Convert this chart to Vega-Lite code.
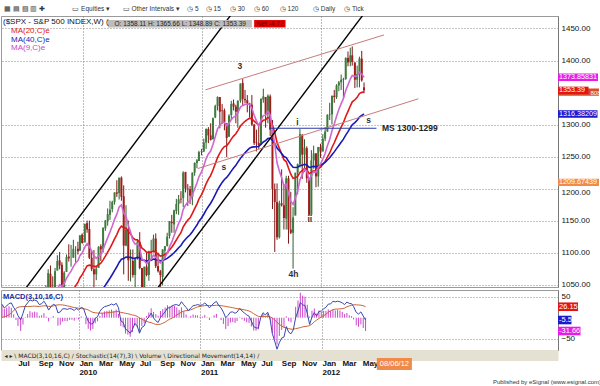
{
  "$schema": "https://vega.github.io/schema/vega-lite/v6.json",
  "padding": {"left": 0, "top": 5, "right": 0, "bottom": 1},
  "background": "white",
  "spacing": -3,
  "config": {
    "view": {"stroke": "#9a9a9a"},
    "font": "Liberation Sans",
    "title": {"font": "Liberation Sans"},
    "axis": {"labelFont": "Liberation Sans", "titleFont": "DejaVu Sans", "labelOverlap": false}
  },
  "title": {"text": "Published by eSignal (www.esignal.com)", "orient": "bottom", "anchor": "end", "frame": "bounds", "fontSize": 6, "fontWeight": "normal", "color": "#333", "offset": 2},
  "resolve": {"scale": {"color": "independent", "fill": "independent", "shape": "independent", "x": "independent", "y": "independent"}, "legend": {"color": "independent"}},
  "datasets": {
    "weeks": [
      {"d":"2009-05-15","o":929,"h":930,"l":878,"c":882,"m20":858,"m40":835,"m9":880,"md":32,"sg":1.1,"hs":30.9},
      {"d":"2009-05-22","o":886,"h":924,"l":879,"c":887,"m20":861,"m40":838,"m9":881,"md":23.3,"sg":2.2,"hs":21.1},
      {"d":"2009-05-29","o":888,"h":920,"l":881,"c":919,"m20":870,"m40":842,"m9":889,"md":27.9,"sg":4,"hs":24},
      {"d":"2009-06-05","o":919,"h":951,"l":916,"c":940,"m20":876.7,"m40":847,"m9":899,"md":33.8,"sg":6.7,"hs":27.1},
      {"d":"2009-06-12","o":940,"h":956,"l":936,"c":946,"m20":883.3,"m40":852,"m9":908,"md":35.1,"sg":11.4,"hs":23.7},
      {"d":"2009-06-19","o":945,"h":945,"l":903,"c":921,"m20":886.9,"m40":855,"m9":911,"md":24.5,"sg":16.4,"hs":8.2},
      {"d":"2009-06-26","o":921,"h":928,"l":888,"c":918,"m20":889.8,"m40":858,"m9":912,"md":16.9,"sg":22.1,"hs":-5.2},
      {"d":"2009-07-02","o":918,"h":931,"l":896,"c":896,"m20":890.4,"m40":860,"m9":909,"md":5.3,"sg":24.9,"hs":-19.6},
      {"d":"2009-07-10","o":897,"h":898,"l":869,"c":879,"m20":889.5,"m40":860.9,"m9":899.8,"md":-5.3,"sg":26.2,"hs":-31.5},
      {"d":"2009-07-17","o":880,"h":943,"l":875,"c":940,"m20":894.3,"m40":864.8,"m9":907.8,"md":10.2,"sg":26.5,"hs":-16.3},
      {"d":"2009-07-24","o":940,"h":980,"l":940,"c":979,"m20":902.3,"m40":870.3,"m9":922,"md":28.1,"sg":26.7,"hs":1.4},
      {"d":"2009-07-31","o":979,"h":996,"l":972,"c":987,"m20":910.4,"m40":876,"m9":935,"md":35.4,"sg":26.7,"hs":8.7},
      {"d":"2009-08-07","o":987,"h":1018,"l":987,"c":1010,"m20":919.9,"m40":882.5,"m9":950,"md":42.5,"sg":26.9,"hs":15.6},
      {"d":"2009-08-14","o":1008,"h":1013,"l":990,"c":1005,"m20":928,"m40":888.5,"m9":961,"md":39.9,"sg":27.2,"hs":12.7},
      {"d":"2009-08-21","o":1004,"h":1027,"l":978,"c":1026,"m20":937.3,"m40":895.2,"m9":974,"md":42,"sg":27.6,"hs":14.4},
      {"d":"2009-08-28","o":1026,"h":1040,"l":1021,"c":1029,"m20":946.1,"m40":901.7,"m9":985,"md":39.9,"sg":27,"hs":12.9},
      {"d":"2009-09-04","o":1025,"h":1028,"l":992,"c":1016,"m20":952.7,"m40":907.3,"m9":991.2,"md":31.3,"sg":26.9,"hs":4.4},
      {"d":"2009-09-11","o":1018,"h":1049,"l":1016,"c":1042,"m20":961.1,"m40":913.9,"m9":1001.4,"md":33.3,"sg":27.6,"hs":5.7},
      {"d":"2009-09-18","o":1040,"h":1074,"l":1039,"c":1068,"m20":971.4,"m40":921.5,"m9":1014.7,"md":39.3,"sg":28.3,"hs":11},
      {"d":"2009-09-25","o":1067,"h":1080,"l":1041,"c":1044,"m20":978.3,"m40":927.5,"m9":1020.6,"md":30.6,"sg":28.1,"hs":2.5},
      {"d":"2009-10-02","o":1044,"h":1063,"l":1020,"c":1025,"m20":982.7,"m40":932.2,"m9":1021.5,"md":18.2,"sg":27,"hs":-8.8},
      {"d":"2009-10-09","o":1026,"h":1076,"l":1020,"c":1071,"m20":991.1,"m40":939,"m9":1031.4,"md":26.1,"sg":27.1,"hs":-1},
      {"d":"2009-10-16","o":1072,"h":1096,"l":1072,"c":1087,"m20":1000.2,"m40":946.2,"m9":1042.5,"md":32,"sg":28.1,"hs":3.9},
      {"d":"2009-10-23","o":1088,"h":1101,"l":1074,"c":1080,"m20":1007.8,"m40":952.7,"m9":1050,"md":29.3,"sg":29.6,"hs":-0.3},
      {"d":"2009-10-30","o":1081,"h":1085,"l":1029,"c":1036,"m20":1010.5,"m40":956.8,"m9":1047.2,"md":11.6,"sg":30.6,"hs":-19},
      {"d":"2009-11-06","o":1036,"h":1071,"l":1029,"c":1069,"m20":1016.1,"m40":962.3,"m9":1051.6,"md":13.8,"sg":30.8,"hs":-17},
      {"d":"2009-11-13","o":1070,"h":1097,"l":1070,"c":1093,"m20":1023.4,"m40":968.6,"m9":1059.9,"md":21.1,"sg":30.4,"hs":-9.3},
      {"d":"2009-11-20","o":1094,"h":1113,"l":1086,"c":1091,"m20":1029.8,"m40":974.6,"m9":1066.1,"md":21.4,"sg":29.5,"hs":-8.1},
      {"d":"2009-11-27","o":1091,"h":1112,"l":1078,"c":1091,"m20":1035.6,"m40":980.3,"m9":1071.1,"md":19.7,"sg":28.1,"hs":-8.4},
      {"d":"2009-12-04","o":1092,"h":1120,"l":1092,"c":1106,"m20":1042.3,"m40":986.5,"m9":1078.1,"md":21.9,"sg":27,"hs":-5.1},
      {"d":"2009-12-11","o":1106,"h":1110,"l":1085,"c":1106,"m20":1048.3,"m40":992.3,"m9":1083.7,"md":20.8,"sg":25.6,"hs":-4.8},
      {"d":"2009-12-18","o":1106,"h":1117,"l":1097,"c":1102,"m20":1053.4,"m40":997.7,"m9":1087.4,"md":17.2,"sg":24.2,"hs":-7},
      {"d":"2009-12-24","o":1103,"h":1127,"l":1103,"c":1127,"m20":1060.4,"m40":1004,"m9":1095.3,"md":22.1,"sg":23.7,"hs":-1.6},
      {"d":"2009-12-31","o":1128,"h":1130,"l":1114,"c":1115,"m20":1065.6,"m40":1009.4,"m9":1099.2,"md":18.4,"sg":22.7,"hs":-4.3},
      {"d":"2010-01-08","o":1116,"h":1145,"l":1116,"c":1145,"m20":1073.2,"m40":1016,"m9":1108.4,"md":24.6,"sg":21.8,"hs":2.8},
      {"d":"2010-01-15","o":1146,"h":1150,"l":1131,"c":1136,"m20":1079.2,"m40":1021.9,"m9":1113.9,"md":22.1,"sg":21.3,"hs":0.8},
      {"d":"2010-01-22","o":1137,"h":1150,"l":1090,"c":1092,"m20":1080.4,"m40":1025.4,"m9":1109.5,"md":5.1,"sg":20.5,"hs":-15.4},
      {"d":"2010-01-29","o":1092,"h":1103,"l":1071,"c":1074,"m20":1079.8,"m40":1027.7,"m9":1102.4,"md":-8.1,"sg":18.3,"hs":-26.4},
      {"d":"2010-02-05","o":1074,"h":1104,"l":1045,"c":1066,"m20":1078.5,"m40":1029.6,"m9":1095.1,"md":-15.3,"sg":15.4,"hs":-30.7},
      {"d":"2010-02-12","o":1066,"h":1080,"l":1057,"c":1075,"m20":1078.2,"m40":1031.8,"m9":1091.1,"md":-14,"sg":12.7,"hs":-26.7},
      {"d":"2010-02-19","o":1076,"h":1110,"l":1076,"c":1109,"m20":1081.1,"m40":1035.6,"m9":1094.7,"md":-1.3,"sg":11.8,"hs":-13.1},
      {"d":"2010-02-26","o":1110,"h":1113,"l":1087,"c":1105,"m20":1083.4,"m40":1039,"m9":1096.8,"md":2.7,"sg":11.2,"hs":-8.5},
      {"d":"2010-03-05","o":1105,"h":1139,"l":1100,"c":1139,"m20":1088.7,"m40":1043.9,"m9":1105.2,"md":15,"sg":10.8,"hs":4.2},
      {"d":"2010-03-12","o":1138,"h":1151,"l":1134,"c":1150,"m20":1094.5,"m40":1049,"m9":1114.2,"md":22.2,"sg":10.8,"hs":11.4},
      {"d":"2010-03-19","o":1149,"h":1169,"l":1142,"c":1160,"m20":1100.7,"m40":1054.5,"m9":1123.4,"md":26.2,"sg":11.2,"hs":15},
      {"d":"2010-03-26","o":1159,"h":1181,"l":1151,"c":1167,"m20":1107.1,"m40":1060,"m9":1132.1,"md":27.8,"sg":11.6,"hs":16.2},
      {"d":"2010-04-02","o":1168,"h":1181,"l":1163,"c":1179,"m20":1113.9,"m40":1065.8,"m9":1141.5,"md":29.7,"sg":12.2,"hs":17.5},
      {"d":"2010-04-09","o":1179,"h":1194,"l":1175,"c":1194,"m20":1121.5,"m40":1072,"m9":1152,"md":32.6,"sg":13.1,"hs":19.5},
      {"d":"2010-04-16","o":1194,"h":1213,"l":1187,"c":1192,"m20":1128.2,"m40":1077.9,"m9":1160,"md":30.1,"sg":13.6,"hs":16.5},
      {"d":"2010-04-23","o":1193,"h":1217,"l":1183,"c":1217,"m20":1136.6,"m40":1084.7,"m9":1171.4,"md":34.4,"sg":14.6,"hs":19.8},
      {"d":"2010-04-30","o":1217,"h":1219,"l":1181,"c":1187,"m20":1141.4,"m40":1089.7,"m9":1174.5,"md":23.4,"sg":14.5,"hs":8.9},
      {"d":"2010-05-07","o":1188,"h":1205,"l":1066,"c":1111,"m20":1138.5,"m40":1090.7,"m9":1161.8,"md":-7.4,"sg":12.7,"hs":-20.1},
      {"d":"2010-05-14","o":1111,"h":1174,"l":1110,"c":1136,"m20":1138.3,"m40":1093,"m9":1156.6,"md":-11.3,"sg":11.7,"hs":-23},
      {"d":"2010-05-21","o":1136,"h":1150,"l":1056,"c":1088,"m20":1133.5,"m40":1092.7,"m9":1142.9,"md":-27.2,"sg":10.5,"hs":-37.7},
      {"d":"2010-05-28","o":1088,"h":1105,"l":1055,"c":1089,"m20":1129.3,"m40":1092.5,"m9":1132.1,"md":-30.9,"sg":9.5,"hs":-40.4},
      {"d":"2010-06-04","o":1087,"h":1105,"l":1061,"c":1065,"m20":1123.2,"m40":1091.2,"m9":1118.7,"md":-37.2,"sg":8.1,"hs":-45.3},
      {"d":"2010-06-11","o":1065,"h":1092,"l":1043,"c":1092,"m20":1120.2,"m40":1091.2,"m9":1113.4,"md":-27.8,"sg":6.4,"hs":-34.2},
      {"d":"2010-06-18","o":1092,"h":1121,"l":1089,"c":1117,"m20":1119.9,"m40":1092.5,"m9":1114.1,"md":-13.4,"sg":5.4,"hs":-18.8},
      {"d":"2010-06-25","o":1117,"h":1132,"l":1074,"c":1076,"m20":1115.7,"m40":1091.7,"m9":1106.5,"md":-19.4,"sg":3.2,"hs":-22.6},
      {"d":"2010-07-02","o":1076,"h":1076,"l":1011,"c":1023,"m20":1106.9,"m40":1088.4,"m9":1089.8,"md":-36.9,"sg":-0.5,"hs":-36.4},
      {"d":"2010-07-09","o":1023,"h":1078,"l":1023,"c":1078,"m20":1104.2,"m40":1087.9,"m9":1087.4,"md":-23.2,"sg":-3.5,"hs":-19.7},
      {"d":"2010-07-16","o":1078,"h":1100,"l":1063,"c":1065,"m20":1100.5,"m40":1086.7,"m9":1082.9,"md":-19.7,"sg":-6.5,"hs":-13.2},
      {"d":"2010-07-23","o":1065,"h":1103,"l":1056,"c":1102,"m20":1100.6,"m40":1087.5,"m9":1086.7,"md":-4.7,"sg":-8.7,"hs":4},
      {"d":"2010-07-30","o":1102,"h":1120,"l":1088,"c":1102,"m20":1100.7,"m40":1088.2,"m9":1089.8,"md":1.9,"sg":-10.6,"hs":12.5},
      {"d":"2010-08-06","o":1102,"h":1128,"l":1100,"c":1122,"m20":1102.7,"m40":1089.8,"m9":1096.2,"md":10.8,"sg":-11.8,"hs":22.6},
      {"d":"2010-08-13","o":1122,"h":1130,"l":1076,"c":1079,"m20":1100.4,"m40":1089.3,"m9":1092.8,"md":-0.2,"sg":-14,"hs":13.8},
      {"d":"2010-08-20","o":1079,"h":1100,"l":1069,"c":1071,"m20":1097.6,"m40":1088.4,"m9":1088.4,"md":-7.2,"sg":-15.9,"hs":8.7},
      {"d":"2010-08-27","o":1071,"h":1073,"l":1040,"c":1065,"m20":1094.5,"m40":1087.2,"m9":1083.7,"md":-11.4,"sg":-16.1,"hs":4.7},
      {"d":"2010-09-03","o":1062,"h":1105,"l":1049,"c":1105,"m20":1095.5,"m40":1088.1,"m9":1088,"md":0.7,"sg":-15.4,"hs":16.1},
      {"d":"2010-09-10","o":1103,"h":1110,"l":1092,"c":1110,"m20":1096.9,"m40":1089.2,"m9":1092.4,"md":7.2,"sg":-13.2,"hs":20.4},
      {"d":"2010-09-17","o":1110,"h":1131,"l":1110,"c":1125,"m20":1099.6,"m40":1091,"m9":1098.9,"md":13.9,"sg":-10.4,"hs":24.3},
      {"d":"2010-09-24","o":1126,"h":1149,"l":1122,"c":1149,"m20":1104.3,"m40":1093.8,"m9":1108.9,"md":23.1,"sg":-6.6,"hs":29.7},
      {"d":"2010-10-01","o":1148,"h":1159,"l":1131,"c":1146,"m20":1108.3,"m40":1096.4,"m9":1116.3,"md":23.7,"sg":-3.4,"hs":27.1},
      {"d":"2010-10-08","o":1144,"h":1167,"l":1131,"c":1166,"m20":1113.8,"m40":1099.8,"m9":1126.2,"md":28.3,"sg":-0.8,"hs":29.1},
      {"d":"2010-10-15","o":1165,"h":1184,"l":1160,"c":1176,"m20":1119.7,"m40":1103.5,"m9":1136.2,"md":30.7,"sg":2.3,"hs":28.4},
      {"d":"2010-10-22","o":1176,"h":1190,"l":1159,"c":1183,"m20":1125.7,"m40":1107.5,"m9":1145.6,"md":31.2,"sg":6.6,"hs":24.6},
      {"d":"2010-10-29","o":1184,"h":1196,"l":1177,"c":1183,"m20":1131.1,"m40":1111.2,"m9":1153.1,"md":28.5,"sg":9.8,"hs":18.7},
      {"d":"2010-11-05","o":1185,"h":1227,"l":1171,"c":1225,"m20":1140.1,"m40":1116.7,"m9":1167.5,"md":38.2,"sg":13.4,"hs":24.8},
      {"d":"2010-11-12","o":1226,"h":1226,"l":1194,"c":1200,"m20":1145.8,"m40":1120.8,"m9":1174,"md":30.7,"sg":15.6,"hs":15.1},
      {"d":"2010-11-19","o":1200,"h":1207,"l":1173,"c":1199,"m20":1150.8,"m40":1124.7,"m9":1179,"md":24.5,"sg":17,"hs":7.5},
      {"d":"2010-11-26","o":1199,"h":1204,"l":1176,"c":1189,"m20":1154.4,"m40":1127.8,"m9":1181,"md":16.6,"sg":17.4,"hs":-0.8},
      {"d":"2010-12-03","o":1187,"h":1225,"l":1174,"c":1225,"m20":1161.2,"m40":1132.6,"m9":1189.8,"md":23.2,"sg":18.9,"hs":4.3},
      {"d":"2010-12-10","o":1225,"h":1241,"l":1220,"c":1240,"m20":1168.7,"m40":1137.8,"m9":1199.8,"md":28.7,"sg":21.1,"hs":7.6},
      {"d":"2010-12-17","o":1240,"h":1246,"l":1232,"c":1244,"m20":1175.8,"m40":1143.1,"m9":1208.6,"md":29.5,"sg":23.7,"hs":5.8},
      {"d":"2010-12-23","o":1243,"h":1259,"l":1243,"c":1257,"m20":1183.5,"m40":1148.7,"m9":1218.3,"md":31.3,"sg":25.6,"hs":5.7},
      {"d":"2010-12-31","o":1257,"h":1262,"l":1252,"c":1258,"m20":1190.6,"m40":1154.1,"m9":1226.2,"md":29.6,"sg":27,"hs":2.6},
      {"d":"2011-01-07","o":1258,"h":1278,"l":1257,"c":1272,"m20":1198.4,"m40":1159.9,"m9":1235.4,"md":30.7,"sg":28,"hs":2.7},
      {"d":"2011-01-14","o":1272,"h":1294,"l":1262,"c":1293,"m20":1207.5,"m40":1166.4,"m9":1246.9,"md":35,"sg":28.8,"hs":6.2},
      {"d":"2011-01-21","o":1293,"h":1296,"l":1271,"c":1283,"m20":1214.7,"m40":1172,"m9":1254.1,"md":30.4,"sg":29.2,"hs":1.2},
      {"d":"2011-01-28","o":1283,"h":1302,"l":1275,"c":1276,"m20":1220.6,"m40":1177.1,"m9":1258.5,"md":23.5,"sg":28.9,"hs":-5.4},
      {"d":"2011-02-04","o":1277,"h":1311,"l":1277,"c":1310,"m20":1229.1,"m40":1183.6,"m9":1268.8,"md":29.4,"sg":28.8,"hs":0.6},
      {"d":"2011-02-11","o":1311,"h":1331,"l":1310,"c":1329,"m20":1238.6,"m40":1190.7,"m9":1280.8,"md":35.1,"sg":29.1,"hs":6},
      {"d":"2011-02-18","o":1329,"h":1344,"l":1322,"c":1343,"m20":1248.5,"m40":1198.1,"m9":1293.2,"md":38.8,"sg":29.7,"hs":9.1},
      {"d":"2011-02-25","o":1343,"h":1343,"l":1294,"c":1320,"m20":1255.3,"m40":1204,"m9":1298.6,"md":29.4,"sg":29.2,"hs":0.2},
      {"d":"2011-03-04","o":1322,"h":1332,"l":1301,"c":1321,"m20":1261.5,"m40":1209.6,"m9":1303.1,"md":23.2,"sg":28.7,"hs":-5.5},
      {"d":"2011-03-11","o":1322,"h":1325,"l":1291,"c":1304,"m20":1265.6,"m40":1214.2,"m9":1303.3,"md":13.2,"sg":28,"hs":-14.8},
      {"d":"2011-03-18","o":1302,"h":1302,"l":1249,"c":1279,"m20":1266.9,"m40":1217.4,"m9":1298.4,"md":-0.1,"sg":26.9,"hs":-27},
      {"d":"2011-03-25","o":1281,"h":1316,"l":1281,"c":1314,"m20":1271.4,"m40":1222,"m9":1301.5,"md":5.7,"sg":25.8,"hs":-20.1},
      {"d":"2011-04-01","o":1315,"h":1337,"l":1307,"c":1332,"m20":1277.2,"m40":1227.3,"m9":1307.6,"md":13.3,"sg":24.9,"hs":-11.6},
      {"d":"2011-04-08","o":1333,"h":1339,"l":1322,"c":1328,"m20":1282,"m40":1232.1,"m9":1311.7,"md":13.9,"sg":23.9,"hs":-10},
      {"d":"2011-04-15","o":1328,"h":1331,"l":1302,"c":1320,"m20":1285.6,"m40":1236.3,"m9":1313.4,"md":10.4,"sg":22.6,"hs":-12.2},
      {"d":"2011-04-21","o":1319,"h":1338,"l":1295,"c":1337,"m20":1290.5,"m40":1241.2,"m9":1318.1,"md":13.4,"sg":21.6,"hs":-8.2},
      {"d":"2011-04-29","o":1337,"h":1364,"l":1334,"c":1364,"m20":1297.6,"m40":1247.2,"m9":1327.3,"md":22,"sg":21,"hs":1},
      {"d":"2011-05-06","o":1365,"h":1371,"l":1329,"c":1340,"m20":1301.6,"m40":1251.7,"m9":1329.8,"md":15.9,"sg":19.8,"hs":-3.9},
      {"d":"2011-05-13","o":1340,"h":1354,"l":1333,"c":1338,"m20":1305.1,"m40":1255.8,"m9":1331.4,"md":11.3,"sg":18.7,"hs":-7.4},
      {"d":"2011-05-20","o":1338,"h":1346,"l":1319,"c":1333,"m20":1307.7,"m40":1259.6,"m9":1331.7,"md":6.8,"sg":17.6,"hs":-10.8},
      {"d":"2011-05-27","o":1333,"h":1334,"l":1311,"c":1331,"m20":1309.9,"m40":1263,"m9":1331.6,"md":3.7,"sg":16,"hs":-12.3},
      {"d":"2011-06-03","o":1331,"h":1346,"l":1298,"c":1300,"m20":1309,"m40":1264.8,"m9":1325.3,"md":-7.8,"sg":13.3,"hs":-21.1},
      {"d":"2011-06-10","o":1300,"h":1301,"l":1268,"c":1271,"m20":1305.4,"m40":1265.1,"m9":1314.4,"md":-21,"sg":9.6,"hs":-30.6},
      {"d":"2011-06-17","o":1272,"h":1292,"l":1258,"c":1271,"m20":1302.1,"m40":1265.4,"m9":1305.7,"md":-24.5,"sg":6.2,"hs":-30.7},
      {"d":"2011-06-24","o":1271,"h":1298,"l":1262,"c":1268,"m20":1298.9,"m40":1265.6,"m9":1298.2,"md":-24.6,"sg":3.2,"hs":-27.8},
      {"d":"2011-07-01","o":1268,"h":1341,"l":1268,"c":1340,"m20":1302.8,"m40":1269.2,"m9":1306.6,"md":0.4,"sg":2.4,"hs":-2},
      {"d":"2011-07-08","o":1339,"h":1356,"l":1334,"c":1344,"m20":1306.7,"m40":1272.8,"m9":1314.1,"md":11.9,"sg":3.2,"hs":8.7},
      {"d":"2011-07-15","o":1343,"h":1343,"l":1295,"c":1316,"m20":1307.6,"m40":1274.9,"m9":1314.5,"md":6.6,"sg":3.2,"hs":3.4},
      {"d":"2011-07-22","o":1316,"h":1347,"l":1302,"c":1345,"m20":1311.2,"m40":1278.4,"m9":1320.6,"md":13.1,"sg":3.2,"hs":9.9},
      {"d":"2011-07-29","o":1344,"h":1347,"l":1282,"c":1292,"m20":1309.4,"m40":1279,"m9":1314.9,"md":-2.3,"sg":2.2,"hs":-4.5},
      {"d":"2011-08-05","o":1292,"h":1307,"l":1168,"c":1199,"m20":1298.9,"m40":1275.1,"m9":1291.7,"md":-37.9,"sg":-0.8,"hs":-37.1},
      {"d":"2011-08-12","o":1199,"h":1208,"l":1101,"c":1179,"m20":1287.6,"m40":1270.4,"m9":1269.2,"md":-55.4,"sg":-5.1,"hs":-50.3},
      {"d":"2011-08-19","o":1179,"h":1208,"l":1120,"c":1124,"m20":1272,"m40":1263.3,"m9":1240.2,"md":-75,"sg":-11.2,"hs":-63.8},
      {"d":"2011-08-26","o":1124,"h":1181,"l":1122,"c":1177,"m20":1263,"m40":1259.1,"m9":1227.6,"md":-59.3,"sg":-15.9,"hs":-43.4},
      {"d":"2011-09-02","o":1177,"h":1230,"l":1172,"c":1174,"m20":1254.5,"m40":1254.9,"m9":1216.9,"md":-48.5,"sg":-19.6,"hs":-28.9},
      {"d":"2011-09-09","o":1174,"h":1205,"l":1136,"c":1154,"m20":1245,"m40":1250,"m9":1204.3,"md":-46,"sg":-22.9,"hs":-23.1},
      {"d":"2011-09-16","o":1153,"h":1220,"l":1136,"c":1216,"m20":1242.3,"m40":1248.3,"m9":1206.6,"md":-21.1,"sg":-24.5,"hs":3.4},
      {"d":"2011-09-23","o":1216,"h":1220,"l":1114,"c":1136,"m20":1232,"m40":1242.9,"m9":1192.5,"md":-34.4,"sg":-26.1,"hs":-8.3},
      {"d":"2011-09-30","o":1136,"h":1195,"l":1129,"c":1131,"m20":1222.4,"m40":1237.4,"m9":1180.2,"md":-38.3,"sg":-27.2,"hs":-11.1},
      {"d":"2011-10-07","o":1131,"h":1171,"l":1075,"c":1155,"m20":1216,"m40":1233.4,"m9":1175.2,"md":-28.8,"sg":-27.5,"hs":-1.3},
      {"d":"2011-10-14","o":1158,"h":1224,"l":1158,"c":1225,"m20":1216.9,"m40":1233,"m9":1185.2,"md":0,"sg":-25.9,"hs":25.9},
      {"d":"2011-10-21","o":1225,"h":1239,"l":1191,"c":1238,"m20":1218.9,"m40":1233.3,"m9":1195.8,"md":15.9,"sg":-25,"hs":40.9},
      {"d":"2011-10-28","o":1238,"h":1293,"l":1233,"c":1285,"m20":1225.2,"m40":1235.8,"m9":1213.6,"md":35.9,"sg":-23.5,"hs":59.4},
      {"d":"2011-11-04","o":1284,"h":1285,"l":1215,"c":1253,"m20":1227.9,"m40":1236.6,"m9":1221.5,"md":30.6,"sg":-22,"hs":52.6},
      {"d":"2011-11-11","o":1253,"h":1277,"l":1226,"c":1264,"m20":1231.3,"m40":1238,"m9":1230,"md":29.2,"sg":-21,"hs":50.2},
      {"d":"2011-11-18","o":1263,"h":1266,"l":1209,"c":1216,"m20":1229.9,"m40":1236.9,"m9":1227.2,"md":10.7,"sg":-20.2,"hs":30.9},
      {"d":"2011-11-25","o":1216,"h":1216,"l":1158,"c":1159,"m20":1223.2,"m40":1233.1,"m9":1213.6,"md":-16,"sg":-18.8,"hs":2.8},
      {"d":"2011-12-02","o":1159,"h":1260,"l":1158,"c":1244,"m20":1225.2,"m40":1233.6,"m9":1219.7,"md":1.6,"sg":-15.2,"hs":16.8},
      {"d":"2011-12-09","o":1244,"h":1267,"l":1231,"c":1255,"m20":1228,"m40":1234.7,"m9":1226.8,"md":12.1,"sg":-9.8,"hs":21.9},
      {"d":"2011-12-16","o":1255,"h":1255,"l":1202,"c":1219,"m20":1227.2,"m40":1233.9,"m9":1225.2,"md":3.9,"sg":-5.8,"hs":9.7},
      {"d":"2011-12-23","o":1219,"h":1265,"l":1203,"c":1265,"m20":1230.8,"m40":1235.4,"m9":1233.2,"md":14.9,"sg":-1.9,"hs":16.8},
      {"d":"2011-12-30","o":1265,"h":1270,"l":1248,"c":1258,"m20":1233.4,"m40":1236.5,"m9":1238.2,"md":15.8,"sg":2,"hs":13.8},
      {"d":"2012-01-06","o":1258,"h":1285,"l":1258,"c":1278,"m20":1237.6,"m40":1238.5,"m9":1246.2,"md":21.1,"sg":4.6,"hs":16.5},
      {"d":"2012-01-13","o":1278,"h":1296,"l":1274,"c":1289,"m20":1242.4,"m40":1241,"m9":1254.8,"md":24.8,"sg":8.3,"hs":16.5},
      {"d":"2012-01-20","o":1289,"h":1316,"l":1289,"c":1315,"m20":1249.3,"m40":1244.6,"m9":1266.8,"md":32.4,"sg":12.8,"hs":19.6},
      {"d":"2012-01-27","o":1315,"h":1334,"l":1307,"c":1316,"m20":1255.6,"m40":1248.1,"m9":1276.6,"md":32.8,"sg":16.6,"hs":16.2},
      {"d":"2012-02-03","o":1316,"h":1345,"l":1300,"c":1345,"m20":1264.1,"m40":1252.9,"m9":1290.3,"md":39.2,"sg":19.1,"hs":20.1},
      {"d":"2012-02-10","o":1345,"h":1354,"l":1334,"c":1343,"m20":1271.6,"m40":1257.3,"m9":1300.8,"md":37.7,"sg":20.4,"hs":17.3},
      {"d":"2012-02-17","o":1343,"h":1363,"l":1340,"c":1361,"m20":1280,"m40":1262.4,"m9":1312.8,"md":39.3,"sg":20.6,"hs":18.7},
      {"d":"2012-02-24","o":1361,"h":1368,"l":1352,"c":1366,"m20":1288.2,"m40":1267.4,"m9":1323.4,"md":38,"sg":21.1,"hs":16.9},
      {"d":"2012-03-02","o":1366,"h":1378,"l":1354,"c":1370,"m20":1295.9,"m40":1272.4,"m9":1332.7,"md":35.3,"sg":21.5,"hs":13.8},
      {"d":"2012-03-09","o":1370,"h":1373,"l":1341,"c":1371,"m20":1303,"m40":1277.2,"m9":1340.4,"md":31.3,"sg":22.8,"hs":8.5},
      {"d":"2012-03-16","o":1371,"h":1405,"l":1370,"c":1404,"m20":1312.6,"m40":1283.4,"m9":1353.1,"md":37.3,"sg":26.1,"hs":11.2},
      {"d":"2012-03-23","o":1404,"h":1414,"l":1391,"c":1397,"m20":1320.6,"m40":1288.9,"m9":1361.9,"md":34.1,"sg":28.1,"hs":6},
      {"d":"2012-03-30","o":1397,"h":1420,"l":1391,"c":1408,"m20":1328.9,"m40":1294.7,"m9":1371.1,"md":33.3,"sg":29.5,"hs":3.8},
      {"d":"2012-04-05","o":1408,"h":1422,"l":1392,"c":1398,"m20":1335.4,"m40":1299.7,"m9":1376.5,"md":26.8,"sg":30.9,"hs":-4.1},
      {"d":"2012-04-13","o":1397,"h":1397,"l":1357,"c":1370,"m20":1338.7,"m40":1303.1,"m9":1375.2,"md":12.7,"sg":30.7,"hs":-18},
      {"d":"2012-04-20","o":1370,"h":1392,"l":1358,"c":1379,"m20":1342.5,"m40":1306.8,"m9":1376,"md":8.7,"sg":30.3,"hs":-21.6},
      {"d":"2012-04-27","o":1378,"h":1406,"l":1358,"c":1403,"m20":1348.3,"m40":1311.5,"m9":1381.4,"md":13.9,"sg":29.9,"hs":-16},
      {"d":"2012-05-04","o":1403,"h":1415,"l":1367,"c":1369,"m20":1350.3,"m40":1314.3,"m9":1378.9,"md":3.9,"sg":28.5,"hs":-24.6},
      {"d":"2012-05-11","o":1358.11,"h":1365.66,"l":1348.89,"c":1353.39,"m20":1350.6,"m40":1316.4,"m9":1373.9,"md":-5.5,"sg":26.15,"hs":-31.66}
    ],
    "tl": [
      {"id":"b1","k":"black","d":"2009-07-05","p":1040},{"id":"b1","k":"black","d":"2011-04-13","p":1480},
      {"id":"b2","k":"black","d":"2010-08-12","p":1040},{"id":"b2","k":"black","d":"2012-05-21","p":1480},
      {"id":"p1","k":"pink","d":"2011-01-12","p":1354.2},{"id":"p1","k":"pink","d":"2012-07-11","p":1439.9},
      {"id":"p2","k":"pink","d":"2010-12-19","p":1231.2},{"id":"p2","k":"pink","d":"2012-10-24","p":1340.2},
      {"id":"ms","k":"blue","d":"2011-07-26","p":1294.2},{"id":"ms","k":"blue","d":"2012-06-18","p":1294.2}
    ],
    "notes": [
      {"d":"2011-04-27","p":1391.6,"t":"3"},
      {"d":"2011-10-20","p":1303.3,"t":"i"},
      {"d":"2011-03-09","p":1233.8,"t":"s"},
      {"d":"2011-11-27","p":1152.8,"t":"ii"},
      {"d":"2011-10-08","p":1067.1,"t":"4h"},
      {"d":"2012-05-25","p":1306.4,"t":"s"}
    ],
    "msnote": [
      {"d":"2012-07-05","p":1295,"t":"MS 1300-1299"}
    ],
    "vals": [
      {"s":"m9","v":1373.85831,"t":"1373.85831"},
      {"s":"m20","v":1350.58808,"t":"808"},
      {"s":"close","v":1353.39,"t":"1353.39"},
      {"s":"m40","v":1316.38209,"t":"1316.38209"},
      {"s":"lvl","v":1209.67439,"t":"1209.67439"}
    ],
    "mvals": [
      {"s":"sg","v":26.15,"t":"26.15"},
      {"s":"md","v":-5.5,"t":"-5.5"},
      {"s":"hs","v":-31.66,"t":"-31.66"}
    ],
    "cursor": [
      {"d":"2012-06-08","t":"08/06/12"}
    ]
  },
  "vconcat": [
    {
      "width": 557,
      "height": 271,
      "title": {"text": "▦ ▤ ▧ ▥ ✚\u00a0\u00a0\u00a0\u00a0\u00a0\u00a0\u00a0\u00a0\u00a0\u00a0\u00a0\u00a0\u00a0\u00a0\u00a0▭\u00a0Equities\u00a0▾\u00a0\u00a0\u00a0\u00a0\u00a0\u00a0\u00a0▭\u00a0Other Intervals\u00a0▾\u00a0\u00a0\u00a0\u00a0◷\u00a05\u00a0\u00a0\u00a0\u00a0◷\u00a015\u00a0\u00a0\u00a0\u00a0\u00a0◷\u00a030\u00a0\u00a0\u00a0\u00a0\u00a0◷\u00a060\u00a0\u00a0\u00a0\u00a0\u00a0\u00a0◷\u00a0120\u00a0\u00a0\u00a0\u00a0\u00a0\u00a0\u00a0\u00a0◷\u00a0Daily\u00a0\u00a0\u00a0\u00a0\u00a0◷\u00a0Tick", "anchor": "start", "dx": 3, "fontSize": 6.5, "fontWeight": "normal", "color": "#333", "offset": 4, "font": "Liberation Sans"},
      "resolve": {"axis": {"x": "independent", "y": "independent"}},
      "layer": [
        {
          "data": {"name": "weeks"},
          "mark": {"type": "rule", "clip": true, "strokeWidth": 1},
          "encoding": {
            "x": {"field": "d", "type": "temporal",
                  "scale": {"domain": [{"year": 2009, "month": 5, "date": 12}, {"year": 2013, "month": 12, "date": 10}]},
                  "axis": {"values": [{"year": 2010, "month": 1, "date": 1}, {"year": 2011, "month": 1, "date": 1}, {"year": 2012, "month": 1, "date": 1}],
                           "grid": true, "gridDash": [1, 2], "gridColor": "#777", "labels": false, "ticks": false, "domain": false, "title": null}},
            "y": {"field": "l", "type": "quantitative",
                  "scale": {"domain": [1046.3, 1469.5], "nice": false, "zero": false},
                  "axis": {"orient": "right", "title": null,
                           "values": [1050,1100,1150,1200,1250,1300,1400,1450],
                           "format": ".2f",
                           "labelFontSize": 8, "labelColor": "#111", "labelPadding": 3, "ticks": false,
                           "labelBaseline": {"condition": {"test": "datum.value === 1200", "value": "top"}, "value": "middle"},
                           "labelOverlap": false, "labelBound": false, "labelFlush": false,
                           "domainColor": "#777",
                           "grid": true, "gridColor": "#888", "gridDash": [1, 2]}},
            "y2": {"field": "h"},
            "color": {"condition": {"test": "datum.c >= datum.o", "value": "#2E5E2E"}, "value": "#7E1616"}
          }
        },
        {
          "data": {"name": "weeks"},
          "mark": {"type": "bar", "clip": true, "width": 2},
          "encoding": {
            "x": {"field": "d", "type": "temporal", "axis": null},
            "y": {"field": "o", "type": "quantitative", "axis": null},
            "y2": {"field": "c"},
            "color": {"condition": {"test": "datum.c >= datum.o", "value": "#3F7A3F"}, "value": "#A31C1C"}
          }
        },
        {
          "data": {"name": "weeks"},
          "transform": [{"fold": ["m20", "m40", "m9"], "as": ["key", "val"]}],
          "mark": {"type": "line", "clip": true},
          "encoding": {
            "x": {"field": "d", "type": "temporal", "axis": null},
            "y": {"field": "val", "type": "quantitative", "axis": null},
            "color": {"field": "key", "type": "nominal",
                      "scale": {"domain": ["m20", "m40", "m9"], "range": ["#E01818", "#1A1AB8", "#D066D0"]},
                      "legend": {"orient": "top-left", "offset": 2, "padding": 0,
                                 "title": "($SPX - S&P 500 INDEX,W) (", "titleFontSize": 8, "titleFontWeight": "normal", "titleColor": "#111", "titlePadding": 1, "titleLimit": 400, "titleFont": "Liberation Sans",
                                 "labelFontSize": 8, "labelFont": "Liberation Sans", "labelOffset": 0, "rowPadding": 0.5,
                                 "symbolSize": 0, "symbolOpacity": 0, "symbolStrokeWidth": 0,
                                 "labelExpr": "datum.value === 'm20' ? 'MA(20,C)e' : datum.value === 'm40' ? 'MA(40,C)e' : 'MA(9,C)e'",
                                 "encode": {"labels": {"update": {"fill": {"signal": "datum.value === 'm20' ? '#E01818' : datum.value === 'm40' ? '#1A1AB8' : '#CC44CC'"}}}}}},
            "strokeWidth": {"field": "key", "type": "nominal", "scale": {"domain": ["m20", "m40", "m9"], "range": [1.6, 1.6, 1]}, "legend": null}
          }
        },
        {
          "data": {"name": "tl"},
          "transform": [{"filter": "datum.k === 'black'"}],
          "mark": {"type": "line", "clip": true, "color": "#000000", "strokeWidth": 1.4},
          "encoding": {"x": {"field": "d", "type": "temporal", "axis": null}, "y": {"field": "p", "type": "quantitative", "axis": null}, "detail": {"field": "id"}}
        },
        {
          "data": {"name": "tl"},
          "transform": [{"filter": "datum.k === 'pink'"}],
          "mark": {"type": "line", "clip": true, "color": "#C97A7A", "strokeWidth": 1},
          "encoding": {"x": {"field": "d", "type": "temporal", "axis": null}, "y": {"field": "p", "type": "quantitative", "axis": null}, "detail": {"field": "id"}}
        },
        {
          "data": {"name": "tl"},
          "transform": [{"filter": "datum.k === 'blue'"}],
          "mark": {"type": "line", "clip": true, "color": "#2A3AA8", "strokeWidth": 1},
          "encoding": {"x": {"field": "d", "type": "temporal", "axis": null}, "y": {"field": "p", "type": "quantitative", "axis": null}, "detail": {"field": "id"}}
        },
        {
          "data": {"name": "notes"},
          "mark": {"type": "text", "fontSize": 8.5, "fontWeight": "bold", "color": "#333", "align": "center", "baseline": "middle"},
          "encoding": {"x": {"field": "d", "type": "temporal", "axis": null}, "y": {"field": "p", "type": "quantitative", "axis": null}, "text": {"field": "t"}}
        },
        {
          "data": {"name": "msnote"},
          "mark": {"type": "text", "fontSize": 8.5, "fontWeight": "bold", "color": "#222", "align": "left", "baseline": "middle"},
          "encoding": {"x": {"field": "d", "type": "temporal", "axis": null}, "y": {"field": "p", "type": "quantitative", "axis": null}, "text": {"field": "t"}}
        },
        {
          "data": {"values": [{"t": "box"}]},
          "mark": {"type": "rect", "color": "#BDBDBD"},
          "encoding": {"x": {"datum": {"year": 2010, "month": 3, "date": 20}, "type": "temporal", "axis": null}, "x2": {"datum": {"year": 2011, "month": 6, "date": 3}},
                       "y": {"datum": 1463.2, "type": "quantitative", "axis": null}, "y2": {"datum": 1451.6}}
        },
        {
          "data": {"values": [{"t": "O: 1358.11    H: 1365.66    L: 1348.89    C: 1353.39"}]},
          "mark": {"type": "text", "fontSize": 6.5, "color": "#222", "align": "center", "baseline": "middle"},
          "encoding": {"x": {"datum": {"year": 2010, "month": 10, "date": 27}, "type": "temporal", "axis": null}, "y": {"datum": 1457.4, "type": "quantitative", "axis": null}, "text": {"field": "t"}}
        },
        {
          "data": {"values": [{"t": "box"}]},
          "mark": {"type": "rect", "color": "#E00000"},
          "encoding": {"x": {"datum": {"year": 2011, "month": 6, "date": 10}, "type": "temporal", "axis": null}, "x2": {"datum": {"year": 2011, "month": 9, "date": 14}},
                       "y": {"datum": 1463.2, "type": "quantitative", "axis": null}, "y2": {"datum": 1451.6}}
        },
        {
          "data": {"values": [{"t": "Net  -4.72"}]},
          "mark": {"type": "text", "fontSize": 6.5, "color": "#6B0000", "align": "center", "baseline": "middle"},
          "encoding": {"x": {"datum": {"year": 2011, "month": 7, "date": 29}, "type": "temporal", "axis": null}, "y": {"datum": 1457.4, "type": "quantitative", "axis": null}, "text": {"field": "t"}}
        },
        {
          "data": {"name": "vals"},
          "transform": [{"filter": "datum.s === 'm20'"}],
          "mark": {"type": "point", "filled": true, "size": 400, "opacity": 1, "strokeWidth": 0, "shape": "M0,-0.37L4.1,-0.37L4.1,0.37L0,0.37Z", "color": "#D94B2B"},
          "encoding": {"x": {"value": "width"}, "y": {"field": "v", "type": "quantitative", "axis": null}}
        },
        {
          "data": {"name": "vals"},
          "transform": [{"filter": "datum.s === 'm20'"}],
          "mark": {"type": "text", "fontSize": 6, "color": "white", "align": "left", "baseline": "middle", "dx": 32.5, "dy": 1},
          "encoding": {"x": {"value": "width"}, "y": {"field": "v", "type": "quantitative", "axis": null}, "text": {"field": "t"}}
        },
        {
          "data": {"name": "vals"},
          "transform": [{"filter": "datum.s !== 'm20'"}],
          "mark": {"type": "point", "filled": true, "size": 400, "opacity": 1, "strokeWidth": 0},
          "encoding": {"x": {"value": "width"}, "y": {"field": "v", "type": "quantitative", "axis": null},
                       "fill": {"field": "s", "type": "nominal", "scale": {"domain": ["m9", "close", "m40", "lvl"], "range": ["#E81CE8", "#E31414", "#1A1ACF", "#F28A4B"]}, "legend": null},
                       "shape": {"field": "s", "type": "nominal", "scale": {"domain": ["m9", "close", "m40", "lvl"], "range": ["M0,-0.37L4.0,-0.37L4.0,0.37L0,0.37Z", "M0,-0.37L3.05,-0.37L3.05,0.37L0,0.37Z", "M0,-0.37L3.95,-0.37L3.95,0.37L0,0.37Z", "M0,-0.37L4.1,-0.37L4.1,0.37L0,0.37Z"]}, "legend": null}}
        },
        {
          "data": {"name": "vals"},
          "transform": [{"filter": "datum.s !== 'm20'"}],
          "mark": {"type": "text", "fontSize": 7.2, "color": "white", "align": "left", "baseline": "middle", "dx": 1},
          "encoding": {"x": {"value": "width"}, "y": {"field": "v", "type": "quantitative", "axis": null}, "text": {"field": "t"}}
        }
      ]
    },
    {
      "width": 557,
      "height": 60,
      "title": {"text": "MACD(3,10,16,C)", "anchor": "start", "dx": 2, "offset": -10, "fontSize": 7.5, "fontWeight": "bold", "color": "#2030A0"},
      "resolve": {"axis": {"x": "independent", "y": "independent"}},
      "layer": [
        {
          "data": {"name": "weeks"},
          "mark": {"type": "rule", "color": "#CC44CC", "strokeWidth": 1, "clip": true},
          "encoding": {
            "x": {"field": "d", "type": "temporal",
                  "scale": {"domain": [{"year": 2009, "month": 5, "date": 12}, {"year": 2013, "month": 12, "date": 10}]},
                  "axis": {"values": [{"year":2009,"month":7,"date":1},{"year":2009,"month":9,"date":1},{"year":2009,"month":11,"date":1},
                                      {"year":2010,"month":1,"date":1},{"year":2010,"month":3,"date":1},{"year":2010,"month":5,"date":1},{"year":2010,"month":7,"date":1},{"year":2010,"month":9,"date":1},{"year":2010,"month":11,"date":1},
                                      {"year":2011,"month":1,"date":1},{"year":2011,"month":3,"date":1},{"year":2011,"month":5,"date":1},{"year":2011,"month":7,"date":1},{"year":2011,"month":9,"date":1},{"year":2011,"month":11,"date":1},
                                      {"year":2012,"month":1,"date":1},{"year":2012,"month":3,"date":1},{"year":2012,"month":5,"date":1}],
                           "labelExpr": "month(datum.value) == 0 ? [timeFormat(datum.value, '%b'), timeFormat(datum.value, '%Y')] : timeFormat(datum.value, '%b')",
                           "labelAlign": "left", "labelBaseline": "top", "labelPadding": 4, "labelFontSize": 8, "labelFontWeight": "bold", "labelColor": "#111", "labelLineHeight": 9.5,
                           "labelOverlap": false, "labelFlush": false, "labelBound": false,
                           "ticks": false, "offset": 5,
                           "domainColor": "#E4E1D2", "domainWidth": 11,
                           "grid": true, "gridDash": [1, 2], "gridColor": "#777",
                           "gridOpacity": {"condition": {"test": "month(datum.value) == 0", "value": 1}, "value": 0},
                           "title": "◂ ▸  \\ MACD(3,10,16,C) / Stochastic(14(7),3) \\ Volume \\ Directional Movement(14,14) /",
                           "titleX": 3, "titleY": 0, "titleAlign": "left", "titleAnchor": "start", "titleBaseline": "middle",
                           "titleFontSize": 6, "titleFontWeight": "normal", "titleColor": "#222"}},
            "y": {"field": "hs", "type": "quantitative",
                  "scale": {"domain": [-76.9, 66], "nice": false, "zero": false},
                  "axis": {"orient": "right", "title": null, "values": [-50, 50], "format": "d",
                           "labelFontSize": 8, "labelColor": "#111", "labelPadding": 3, "ticks": false, "labelOverlap": false,
                           "domainColor": "#777", "grid": true, "gridDash": [1, 2], "gridColor": "#888"}},
            "y2": {"datum": 0}
          }
        },
        {
          "mark": {"type": "rule", "color": "#9A9A9A", "strokeWidth": 2},
          "encoding": {"y": {"datum": 0, "type": "quantitative", "axis": null}}
        },
        {
          "data": {"name": "weeks"},
          "mark": {"type": "line", "color": "#C86438", "strokeWidth": 1, "clip": true},
          "encoding": {"x": {"field": "d", "type": "temporal", "axis": null}, "y": {"field": "sg", "type": "quantitative", "axis": null}}
        },
        {
          "data": {"name": "weeks"},
          "mark": {"type": "line", "color": "#3848B0", "strokeWidth": 1, "clip": true},
          "encoding": {"x": {"field": "d", "type": "temporal", "axis": null}, "y": {"field": "md", "type": "quantitative", "axis": null}}
        },
        {
          "data": {"name": "mvals"},
          "mark": {"type": "point", "filled": true, "size": 400, "opacity": 1, "strokeWidth": 0},
          "encoding": {"x": {"value": "width"}, "y": {"field": "v", "type": "quantitative", "axis": null},
                       "fill": {"field": "s", "type": "nominal", "scale": {"domain": ["sg", "md", "hs"], "range": ["#E31414", "#1A1ACF", "#E81CE8"]}, "legend": null},
                       "shape": {"field": "s", "type": "nominal", "scale": {"domain": ["sg", "md", "hs"], "range": ["M0,-0.43L2.0,-0.43L2.0,0.43L0,0.43Z", "M0,-0.43L1.35,-0.43L1.35,0.43L0,0.43Z", "M0,-0.43L2.25,-0.43L2.25,0.43L0,0.43Z"]}, "legend": null}}
        },
        {
          "data": {"name": "mvals"},
          "mark": {"type": "text", "fontSize": 7.5, "color": "white", "align": "left", "baseline": "middle", "dx": 1},
          "encoding": {"x": {"value": "width"}, "y": {"field": "v", "type": "quantitative", "axis": null}, "text": {"field": "t"}}
        },
        {
          "data": {"name": "cursor"},
          "mark": {"type": "point", "filled": true, "size": 400, "opacity": 1, "strokeWidth": 0, "color": "#F08A48", "shape": "M0.2,0.8L3.7,0.8L3.7,2L0.2,2Z"},
          "encoding": {"x": {"field": "d", "type": "temporal", "axis": null}, "y": {"datum": -76.9, "type": "quantitative", "axis": null}}
        },
        {
          "data": {"name": "cursor"},
          "mark": {"type": "text", "fontSize": 7.5, "color": "white", "align": "center", "baseline": "middle", "dx": 19.5, "dy": 14},
          "encoding": {"x": {"field": "d", "type": "temporal", "axis": null}, "y": {"datum": -76.9, "type": "quantitative", "axis": null}, "text": {"field": "t"}}
        }
      ]
    }
  ]
}
